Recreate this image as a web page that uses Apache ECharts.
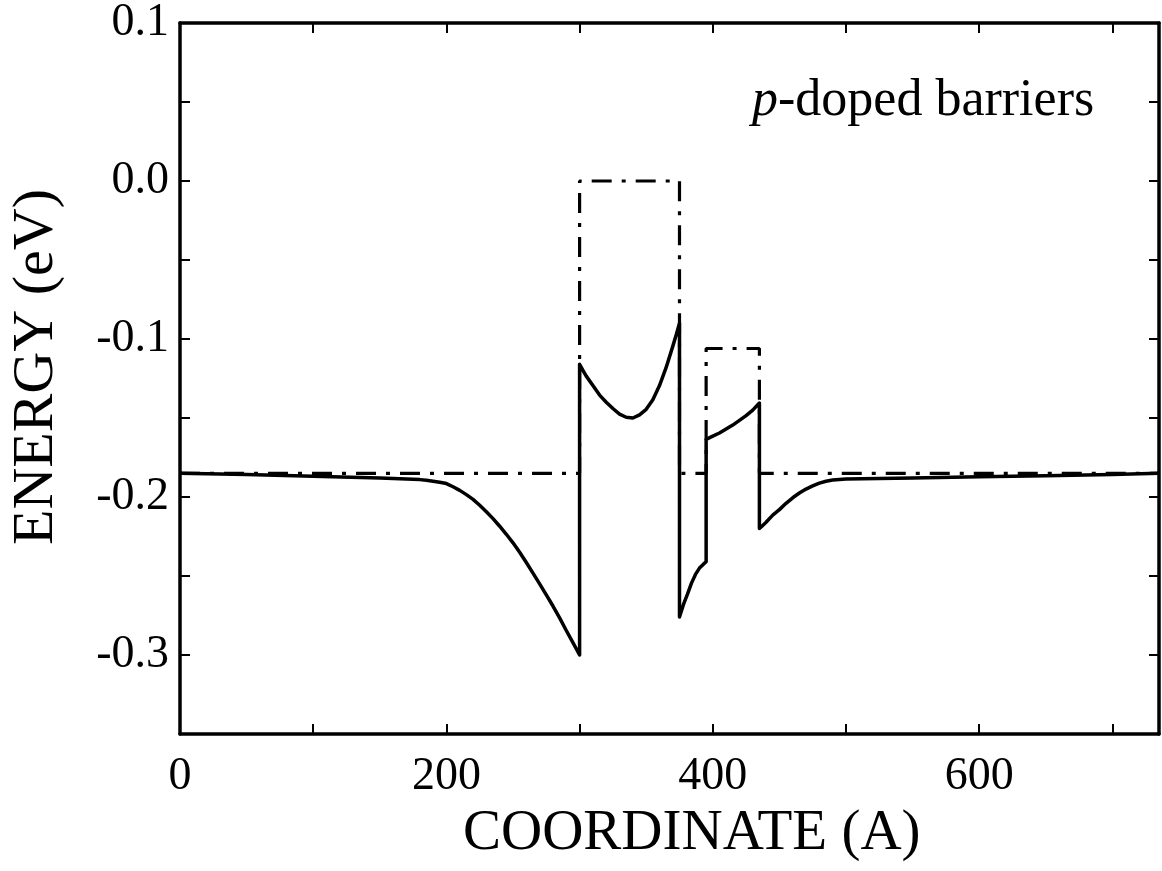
<!DOCTYPE html>
<html>
<head>
<meta charset="utf-8">
<script src="https://cdn.jsdelivr.net/npm/echarts@6/dist/echarts.min.js"></script>
<style>html,body{margin:0;padding:0;background:#fff;}#c{width:1162px;height:871px;}</style>
</head>
<body>
<div id="c"></div>
<script>
// Solid curve (band profile)
const solidX = [0, 50, 100, 150, 180, 185, 190, 195, 200, 205, 210, 215, 220, 225, 230, 235, 240, 245, 250, 255, 260, 265, 270, 275, 280, 285, 290, 295, 300,
  300, 302.5, 305, 310, 315, 320, 325, 330, 335, 340, 345, 350, 355, 360, 365, 370, 372.5, 375,
  375, 378, 381, 384, 387, 390, 393, 395,
  395, 400, 405, 410, 415, 420, 425, 430, 435,
  435, 437.5, 440, 445, 450, 455, 460, 465, 470, 475, 480, 485, 490, 495, 500, 550, 600, 650, 700, 735];
const solidY = [-0.1850, -0.1857, -0.1868, -0.1880, -0.1890, -0.1894, -0.1900, -0.1907, -0.1915, -0.1935, -0.1958, -0.1985, -0.2015, -0.2052, -0.2093, -0.2137, -0.2185, -0.2236, -0.2290, -0.2350, -0.2415, -0.2482, -0.2550, -0.2620, -0.2690, -0.2765, -0.2845, -0.2922, -0.3000,
  -0.1160, -0.1198, -0.1235, -0.1295, -0.1355, -0.1400, -0.1440, -0.1475, -0.1495, -0.1500, -0.1480, -0.1445, -0.1385, -0.1295, -0.1180, -0.1045, -0.0975, -0.0900,
  -0.2760, -0.2680, -0.2615, -0.2545, -0.2490, -0.2450, -0.2425, -0.2410,
  -0.1635, -0.1615, -0.1595, -0.1570, -0.1545, -0.1515, -0.1485, -0.1450, -0.1405,
  -0.2200, -0.2180, -0.2160, -0.2115, -0.2080, -0.2040, -0.2005, -0.1975, -0.1950, -0.1930, -0.1912, -0.1900, -0.1893, -0.1889, -0.1886, -0.1879, -0.1872, -0.1865, -0.1857, -0.1850];
// Dash-dot curve (flat-band barrier profile)
const flatX = [0, 300, 300, 375, 375, 395, 395, 435, 435, 735];
const flatY = [-0.185, -0.185, 0.0, 0.0, -0.185, -0.185, -0.106, -0.106, -0.185, -0.185];
const xLabelValues = [0, 200, 400, 600];
const yLabelValues = ['0.1', '0.0', '-0.1', '-0.2', '-0.3'];
const xTitle = 'COORDINATE (A)';
const yTitle = 'ENERGY (eV)';
const noteText = '-doped barriers';

const FONT = 'Liberation Serif';
const chart = echarts.init(document.getElementById('c'), null, {renderer: 'canvas'});
const solid = solidX.map((x, i) => [x, solidY[i]]);
const flat = flatX.map((x, i) => [x, flatY[i]]);

const axisLine = {show: true, onZero: false, lineStyle: {color: '#000', width: 3.5}};
const axisTick = {show: true, inside: true, length: 10, lineStyle: {color: '#000', width: 2}};

chart.setOption({
  backgroundColor: '#fff',
  animation: false,
  grid: {left: 180, top: 21, right: 3, bottom: 137, containLabel: false},
  xAxis: [{
    type: 'value', min: 0, max: 735, interval: 100, position: 'bottom',
    axisLine, axisTick, splitLine: {show: false},
    axisLabel: {
      margin: 20, color: '#000', fontFamily: FONT, fontSize: 46,
      formatter: v => xLabelValues.indexOf(Math.round(v)) >= 0 && Math.abs(v - Math.round(v)) < 1e-6 ? String(Math.round(v)) : ''
    }
  }, {
    type: 'value', min: 0, max: 735, interval: 100, position: 'top',
    axisLine, axisTick, splitLine: {show: false}, axisLabel: {show: false}
  }],
  yAxis: [{
    type: 'value', min: -0.35, max: 0.1, interval: 0.05, position: 'left',
    axisLine, axisTick, splitLine: {show: false},
    axisLabel: {
      margin: 11, color: '#000', fontFamily: FONT, fontSize: 46,
      formatter: v => { const s = v.toFixed(1); return (Math.abs(v * 10 - Math.round(v * 10)) < 1e-6 && yLabelValues.indexOf(s) >= 0) ? s : ''; }
    }
  }, {
    type: 'value', min: -0.35, max: 0.1, interval: 0.05, position: 'right',
    axisLine, axisTick, splitLine: {show: false}, axisLabel: {show: false}
  }],
  series: [{
    type: 'line', data: flat, symbol: 'none', silent: true,
    lineStyle: {color: '#000', width: 3.2, type: [20, 10, 4, 10], cap: 'butt'}
  }, {
    type: 'line', data: solid, symbol: 'none', silent: true, smooth: false,
    lineStyle: {color: '#000', width: 3.5, join: 'round'}
  }],
  graphic: [{
    type: 'text', left: 463, top: 806,
    style: {text: xTitle, fontFamily: FONT, fontSize: 57, fill: '#000'}
  }, {
    type: 'text', x: 8, y: 545, rotation: Math.PI / 2,
    style: {text: yTitle, fontFamily: FONT, fontSize: 58, fill: '#000', textBaseline: 'top'}
  }, {
    type: 'text', left: 752, top: 75,
    style: {
      rich: {i: {fontFamily: FONT, fontStyle: 'italic', fontSize: 52}, n: {fontFamily: FONT, fontSize: 52}},
      text: '{i|p}{n|' + noteText + '}', fill: '#000'
    }
  }]
});
</script>
</body>
</html>
